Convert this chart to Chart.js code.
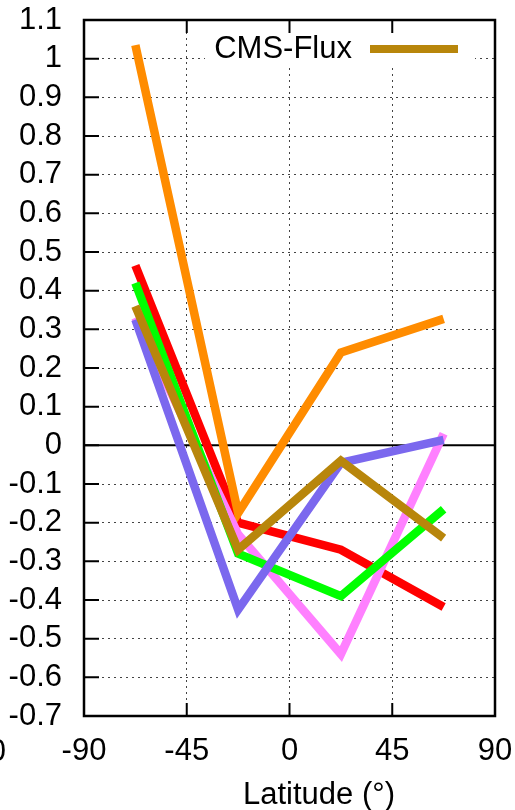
<!DOCTYPE html>
<html>
<head>
<meta charset="utf-8">
<script src="https://cdn.jsdelivr.net/npm/chart.js@4/dist/chart.umd.min.js"></script>
<style>
  html, body { margin: 0; padding: 0; background: #fff; }
  #chart { display: block; }
</style>
</head>
<body>
<canvas id="chart" width="515" height="810"></canvas>
<script>
  /* ━━━━  DATA  ━━━━ */
  const latitudes = [-67.5, -22.5, 22.5, 67.5];
  const xTicks    = [-90, -45, 0, 45, 90];
  const yTicks    = [-0.7,-0.6,-0.5,-0.4,-0.3,-0.2,-0.1,0,0.1,0.2,0.3,0.4,0.5,0.6,0.7,0.8,0.9,1,1.1];

  const cmsFlux   = [0.36, -0.27, -0.04, -0.24];
  const purpleSer = [0.325, -0.425, -0.045, 0.014];
  const greenSer  = [0.42, -0.28, -0.39, -0.165];
  const pinkSer   = [0.33, -0.23, -0.54, 0.03];
  const orangeSer = [1.035, -0.175, 0.24, 0.327];
  const redSer    = [0.465, -0.2, -0.27, -0.418];

  const xLabel = 'Latitude (°)';
  const FONT = "'Liberation Sans', Arial, Helvetica, sans-serif";
  const FSIZE = 31;

  /* first dataset ends up on top */
  const series = [
    { label: 'CMS-Flux', data: cmsFlux,   color: '#b8860b', legend: true },
    { label: 'purple',   data: purpleSer, color: '#7b68ee' },
    { label: 'green',    data: greenSer,  color: '#00ff00' },
    { label: 'pink',     data: pinkSer,   color: '#ff80ff' },
    { label: 'orange',   data: orangeSer, color: '#ff8c00' },
    { label: 'red',      data: redSer,    color: '#ff0000' },
  ];

  /* ━━━━  EXTRAS: frame, inward ticks, zero line, key, labels  ━━━━ */
  const gnuplotLook = {
    id: 'gnuplotLook',
    beforeDatasetsDraw(chart) {
      const { ctx, chartArea: a, scales: { y } } = chart;
      const y0 = y.getPixelForValue(0);
      ctx.save();
      ctx.strokeStyle = '#000';
      ctx.lineWidth = 2;
      ctx.beginPath();
      ctx.moveTo(a.left, y0); ctx.lineTo(a.right, y0);
      ctx.stroke();
      ctx.restore();
    },
    afterDatasetsDraw(chart) {
      const { ctx, chartArea: a, scales: { x, y } } = chart;
      ctx.save();
      // key
      const key = chart.data.datasets.find(d => d.showKey);
      ctx.fillStyle = '#fff';
      ctx.fillRect(205, a.top + 2, 270, 44);
      ctx.fillStyle = '#000';
      ctx.font = FSIZE + 'px ' + FONT;
      ctx.textAlign = 'right';
      ctx.textBaseline = 'middle';
      ctx.fillText(key.label, 352, 49);
      ctx.strokeStyle = key.borderColor;
      ctx.lineWidth = 8;
      ctx.beginPath();
      ctx.moveTo(370, 49); ctx.lineTo(458, 49);
      ctx.stroke();

      // frame
      ctx.strokeStyle = '#000';
      ctx.lineWidth = 2.5;
      ctx.strokeRect(a.left, a.top, a.right - a.left, a.bottom - a.top);

      // inward ticks
      ctx.lineWidth = 2;
      ctx.beginPath();
      yTicks.forEach(v => {
        const py = y.getPixelForValue(v);
        ctx.moveTo(a.left, py); ctx.lineTo(a.left + 15, py);
      });
      xTicks.forEach(v => {
        const px = x.getPixelForValue(v);
        ctx.moveTo(px, a.bottom); ctx.lineTo(px, a.bottom - 13);
        ctx.moveTo(px, a.top);    ctx.lineTo(px, a.top + 13);
      });
      ctx.stroke();

      // axis title, sits right of centre like the original
      ctx.textAlign = 'center';
      ctx.fillText(xLabel, 319, 795);
      // clipped label from the neighbouring panel
      ctx.textAlign = 'right';
      ctx.fillText('90', 6, 752);
      ctx.restore();
    }
  };

  new Chart(document.getElementById('chart'), {
    type: 'line',
    data: {
      datasets: series.map(s => ({
        label: s.label,
        data: latitudes.map((lat, i) => ({ x: lat, y: s.data[i] })),
        borderColor: s.color,
        borderWidth: 8.5,
        borderCapStyle: 'butt',
        borderJoinStyle: 'miter',
        pointRadius: 0,
        fill: false,
        tension: 0,
        showKey: !!s.legend
      }))
    },
    options: {
      responsive: false,
      animation: false,
      events: [],
      layout: { padding: { top: 20, right: 20, left: 0, bottom: 0 } },
      plugins: { legend: { display: false }, tooltip: { enabled: false } },
      scales: {
        x: {
          type: 'linear',
          min: -90, max: 90,
          afterBuildTicks: sc => { sc.ticks = xTicks.map(v => ({ value: v })); },
          afterFit: sc => { sc.height = 94; sc.paddingLeft = 0; sc.paddingRight = 0; },
          grid: { color: '#444', lineWidth: 1, drawTicks: false },
          border: { display: false, dash: [2, 4] },
          ticks: {
            color: '#000', padding: 17,
            font: { family: FONT, size: FSIZE },
            maxRotation: 0, autoSkip: false
          }
        },
        y: {
          min: -0.7, max: 1.1,
          afterBuildTicks: sc => { sc.ticks = yTicks.map(v => ({ value: v })); },
          afterFit: sc => { sc.width = 84; sc.paddingTop = 0; sc.paddingBottom = 0; },
          grid: { color: '#444', lineWidth: 1, drawTicks: false },
          border: { display: false, dash: [2, 4] },
          ticks: {
            color: '#000', padding: 22,
            font: { family: FONT, size: FSIZE },
            autoSkip: false,
            callback: v => String(Math.round(v * 10) / 10)
          }
        }
      }
    },
    plugins: [gnuplotLook]
  });
</script>
</body>
</html>
